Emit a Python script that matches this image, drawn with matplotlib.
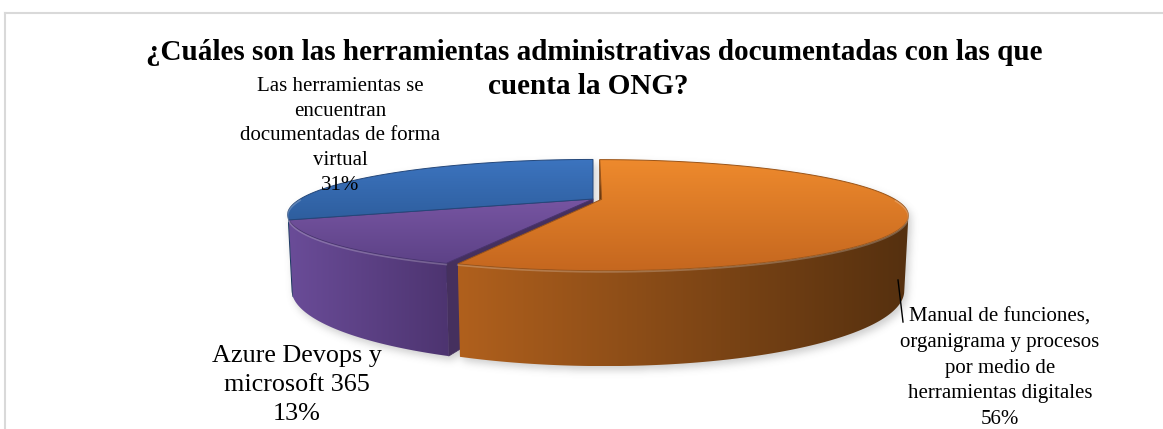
import numpy as np
import matplotlib
matplotlib.use("Agg")
import matplotlib.pyplot as plt
from matplotlib.patches import Polygon
from matplotlib.path import Path
from matplotlib.colors import to_rgb

# ---- data -------------------------------------------------------------
title_lines = ["¿Cuáles son las herramientas administrativas documentadas con las que",
               "cuenta la ONG?"]
categories = [
    "Manual de funciones,\norganigrama y procesos\npor medio de\nherramientas digitales",
    "Azure Devops y\nmicrosoft 365",
    "Las herramientas se\nencuentran\ndocumentadas de forma\nvirtual",
]
values = [56, 13, 31]
explode = [0.03, 0.0, 0.0]

# ---- styling ----------------------------------------------------------
top_colors = [("#EE8A2D", "#C5671F"), ("#7755A2", "#5D4287"), ("#3C74BF", "#2E5E9E")]
side_colors = [("#B0601D", "#55300F"), ("#6A4C98", "#4D3470"), ("#22406A", "#1A3357")]
cut_colors = ["#6A3A12", "#45305E", "#1E3A60"]
edge_colors = ["#9A5418", "#4A3470", "#24477A"]

W, H = 1163, 429
SERIF = "Liberation Serif"

# perspective camera for the 3-D pie
ELEV = np.radians(10.0)
DIST = 3.45
FOCAL = 1010.0
THICK = 0.243
CX, CY = 593.0, 199.0


def project(X, Y, Z):
    c, s = np.cos(ELEV), np.sin(ELEV)
    depth = Y * c + DIST - Z * s
    up = Y * s + Z * c
    return CX + FOCAL * X / depth, CY - FOCAL * up / depth, depth


def rim(thetas, z, off):
    t = np.radians(thetas)
    X = off[0] + np.sin(t)
    Y = off[1] + np.cos(t)
    sx, sy, _ = project(X, Y, np.full_like(X, z))
    return np.column_stack([sx, sy])


def point(x, y, z):
    sx, sy, d = project(np.array([x]), np.array([y]), np.array([z]))
    return np.array([[sx[0], sy[0]]]), d[0]


fig = plt.figure(figsize=(W / 100, H / 100), dpi=100)
ax = fig.add_axes([0, 0, 1, 1])
ax.set_xlim(0, W)
ax.set_ylim(H, 0)
ax.axis("off")


def grad_fill(verts, c0, c1, direction, z):
    patch = Polygon(verts, closed=True, facecolor="none", edgecolor="none")
    ax.add_patch(patch)
    x0, y0 = verts.min(axis=0)
    x1, y1 = verts.max(axis=0)
    n = 256
    t = np.linspace(0, 1, n)
    a, b = np.array(to_rgb(c0)), np.array(to_rgb(c1))
    col = a[None, :] * (1 - t[:, None]) + b[None, :] * t[:, None]
    if direction == "v":
        img = np.repeat(col[:, None, :], 4, axis=1)
    else:
        img = np.repeat(col[None, :, :], 4, axis=0)
    im = ax.imshow(img, extent=(x0, x1, y1, y0), origin="upper",
                   aspect="auto", interpolation="bilinear", zorder=z)
    im.set_clip_path(patch)


total = float(sum(values))
cum = np.concatenate([[0], np.cumsum(values)]) / total * 360.0
Dc = DIST * np.cos(ELEV)

faces = []       # (depth, verts, kind, slice)
tops = []
silhouettes = []
for i, v in enumerate(values):
    t1, t2 = cum[i], cum[i + 1]
    mid = np.radians((t1 + t2) / 2)
    off = (explode[i] * np.sin(mid), explode[i] * np.cos(mid))
    ths = np.linspace(t1, t2, 400)

    c_top, _ = point(off[0], off[1], 0.0)
    c_bot, _ = point(off[0], off[1], -THICK)
    top = np.vstack([c_top, rim(ths, 0.0, off)])
    tops.append((i, top, ths, off))
    silhouettes.append(top)

    # outer wall, only the part turned toward the camera
    tr = np.radians(ths)
    facing = -Dc * np.cos(tr) - (off[0] * np.sin(tr) + off[1] * np.cos(tr)) - 1 > 0
    if facing.any():
        vis = ths[facing]
        side = np.vstack([rim(vis, 0.0, off), rim(vis[::-1], -THICK, off)])
        tm = np.radians(vis.mean())
        _, d = point(off[0] + np.sin(tm), off[1] + np.cos(tm), -THICK / 2)
        faces.append((d, side, "side", i))
        silhouettes.append(side)

    # radial cut faces
    for th, sign in ((t1, -1), (t2, 1)):
        tr1 = np.radians(th)
        n = (sign * np.cos(tr1), -sign * np.sin(tr1))
        if n[0] * (0 - off[0]) + n[1] * (-Dc - off[1]) > 1e-6:
            r_top = rim(np.array([th]), 0.0, off)
            r_bot = rim(np.array([th]), -THICK, off)
            quad = np.vstack([c_top, r_top, r_bot, c_bot])
            _, d = point(off[0] + 0.5 * np.sin(tr1), off[1] + 0.5 * np.cos(tr1), -THICK / 2)
            faces.append((d, quad, "cut", i))
            silhouettes.append(quad)

# soft drop shadow under the pie
yy, xx = np.mgrid[0:H, 0:W] + 0.5
pts = np.column_stack([xx.ravel(), yy.ravel()])
mask = np.zeros(H * W, dtype=bool)
for poly in silhouettes:
    mask |= Path(poly).contains_points(pts)
mask = mask.reshape(H, W).astype(float)
mask = np.roll(np.roll(mask, 4, axis=0), 3, axis=1)
sig = 4.0
k = np.exp(-0.5 * (np.arange(-12, 13) / sig) ** 2)
k /= k.sum()
blur = np.apply_along_axis(lambda r: np.convolve(r, k, mode="same"), 1, mask)
blur = np.apply_along_axis(lambda r: np.convolve(r, k, mode="same"), 0, blur)
shadow = np.zeros((H, W, 4))
shadow[..., :3] = 0.35
shadow[..., 3] = 0.30 * blur
ax.imshow(shadow, extent=(0, W, H, 0), origin="upper", aspect="auto", zorder=1)

# walls and cut faces, farthest first
z = 2.0
for d, verts, kind, i in sorted(faces, key=lambda f: -f[0]):
    if kind == "side":
        grad_fill(verts, side_colors[i][0], side_colors[i][1], "h", z)
    else:
        ax.add_patch(Polygon(verts, closed=True, facecolor=cut_colors[i],
                             edgecolor=cut_colors[i], lw=0.5, zorder=z))
    z += 0.1

# top faces
for i, top, ths, off in tops:
    grad_fill(top, top_colors[i][0], top_colors[i][1], "v", z)
    ax.add_patch(Polygon(top, closed=True, facecolor="none",
                         edgecolor=edge_colors[i], lw=0.7, zorder=z + 0.05))
    front = ths[np.cos(np.radians(ths)) < 0]
    if len(front):
        hl = rim(front, 0.0, off) + np.array([0, 1.2])
        ax.plot(hl[:, 0], hl[:, 1], color="white", alpha=0.22, lw=1.2, zorder=z + 0.06)
    z += 0.1

# frame
ax.plot([5, 5], [H, 13], color="#d9d9d9", lw=1.5, zorder=0.5)
ax.plot([5, W], [13, 13], color="#d9d9d9", lw=1.5, zorder=0.5)

# title, two centred lines
ax.text(594, 53, title_lines[0], ha="center", va="center", fontsize=21,
        fontweight="bold", family=SERIF, zorder=20)
ax.text(588, 87, title_lines[1], ha="center", va="center", fontsize=21,
        fontweight="bold", family=SERIF, zorder=20)

# data labels
pct = [f"{round(v / total * 100)}%" for v in values]
ax.text(1000, 368, f"{categories[0]}\n{pct[0]}", ha="center", va="center",
        fontsize=15, family=SERIF, linespacing=1.47, zorder=20)
ax.plot([898, 903], [280, 322], color="black", lw=1.0, zorder=20)
ax.text(297, 385, f"{categories[1]}\n{pct[1]}", ha="center", va="center",
        fontsize=18.8, family=SERIF, linespacing=1.42, zorder=20)
ax.text(340, 136, f"{categories[2]}\n{pct[2]}", ha="center", va="center",
        fontsize=15, family=SERIF, linespacing=1.41, zorder=20)

fig.savefig("out.png", dpi=100)
